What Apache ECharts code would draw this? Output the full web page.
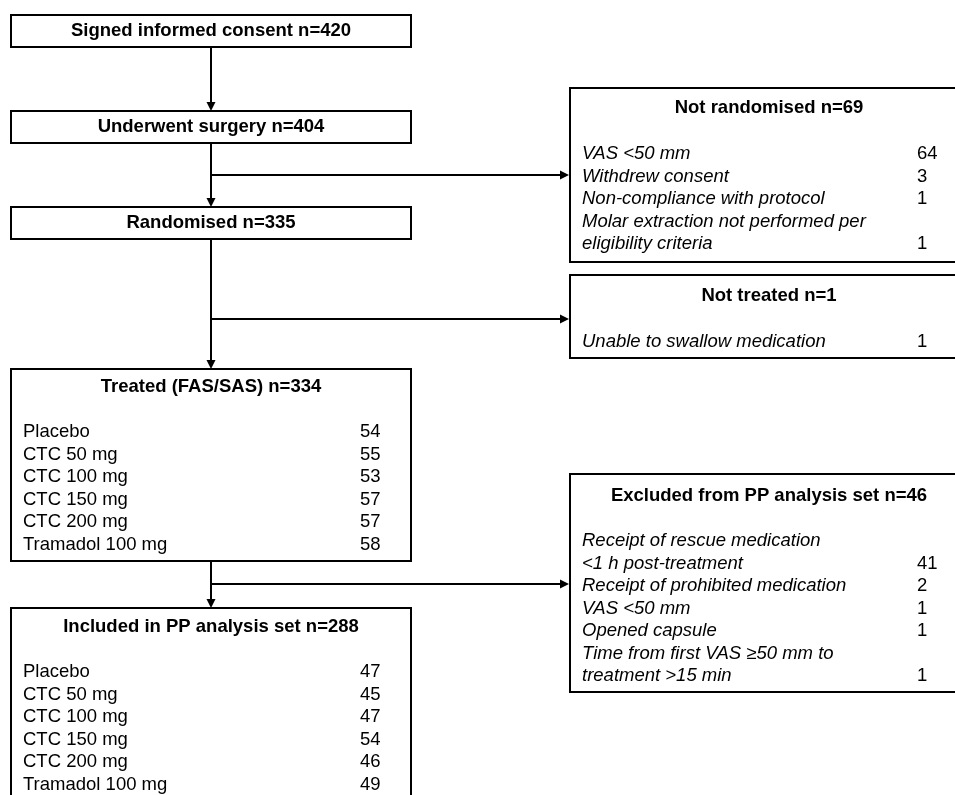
<!DOCTYPE html>
<html>
<head>
<meta charset="utf-8">
<script src="https://cdn.jsdelivr.net/npm/echarts@6/dist/echarts.min.js"></script>
<style>
html,body{margin:0;padding:0;background:#fff;}
#chart{width:955px;height:795px;}
</style>
</head>
<body>
<div id="chart"></div>
<script>
// ---------------- DATA ----------------
const stageTitles = ['Signed informed consent', 'Underwent surgery', 'Randomised', 'Not randomised',
  'Not treated', 'Treated (FAS/SAS)', 'Excluded from PP analysis set', 'Included in PP analysis set'];
const stageN = [420, 404, 335, 69, 1, 334, 46, 288];

const treatmentArms = ['Placebo', 'CTC 50 mg', 'CTC 100 mg', 'CTC 150 mg', 'CTC 200 mg', 'Tramadol 100 mg'];
const treatedCounts = [54, 55, 53, 57, 57, 58];
const ppCounts = [47, 45, 47, 54, 46, 49];

const notRandomisedReasons = ['VAS <50 mm', 'Withdrew consent', 'Non-compliance with protocol',
  'Molar extraction not performed per\neligibility criteria'];
const notRandomisedCounts = [64, 3, 1, 1];

const notTreatedReasons = ['Unable to swallow medication'];
const notTreatedCounts = [1];

const excludedReasons = ['Receipt of rescue medication\n<1 h post-treatment', 'Receipt of prohibited medication',
  'VAS <50 mm', 'Opened capsule', 'Time from first VAS \u226550 mm to\ntreatment >15 min'];
const excludedCounts = [41, 2, 1, 1, 1];

// rows per stage (index matches stageTitles)
const stageRows = [null, null, null,
  {labels: notRandomisedReasons, counts: notRandomisedCounts, italic: true},
  {labels: notTreatedReasons, counts: notTreatedCounts, italic: true},
  {labels: treatmentArms, counts: treatedCounts, italic: false},
  {labels: excludedReasons, counts: excludedCounts, italic: true},
  {labels: treatmentArms, counts: ppCounts, italic: false}];

// ---------------- LAYOUT (positions / sizes, in chart units) ----------------
const boxLayout = [
  {x0: 11, y0: 15, x1: 411, y1: 47, titleY: 31},
  {x0: 11, y0: 111, x1: 411, y1: 143, titleY: 127},
  {x0: 11, y0: 207, x1: 411, y1: 239, titleY: 223},
  {x0: 570, y0: 88, x1: 968, y1: 262, titleY: 108, rowY: 154, labelX: 582, countX: 917},
  {x0: 570, y0: 275, x1: 968, y1: 358, titleY: 296, rowY: 342, labelX: 582, countX: 917},
  {x0: 11, y0: 369, x1: 411, y1: 561, titleY: 387, rowY: 432, labelX: 23, countX: 360},
  {x0: 570, y0: 474, x1: 968, y1: 692, titleY: 496, rowY: 541, labelX: 582, countX: 917},
  {x0: 11, y0: 608, x1: 411, y1: 810, titleY: 627, rowY: 672, labelX: 23, countX: 360}
];
const lineStep = 22.5;
const trunkX = 211;
// connectors: [fromBox, toBox] vertical, and branches [y of branch, target box]
const verticalLinks = [[0, 1], [1, 2], [2, 5], [5, 7]];
const branchLinks = [[175, 3], [319, 4], [584, 6]];

const FONT = '"Liberation Sans", Arial, sans-serif';
const FS = 18.5;

// ---------------- CHART ----------------
const chart = echarts.init(document.getElementById('chart'), null, {renderer: 'canvas'});

function txt(x, y, s, opt) {
  return {
    type: 'text',
    style: Object.assign({
      x: x, y: y, text: s, fill: '#000',
      fontFamily: FONT, fontSize: FS,
      align: 'left', verticalAlign: 'middle'
    }, opt || {})
  };
}

function renderBox(params, api) {
  const i = api.value(0);
  const L = boxLayout[i];
  const p0 = api.coord([L.x0, L.y0]);
  const p1 = api.coord([L.x1, L.y1]);
  const children = [{
    type: 'rect',
    shape: {x: p0[0], y: p0[1], width: p1[0] - p0[0], height: p1[1] - p0[1]},
    style: {fill: '#fff', stroke: '#000', lineWidth: 2}
  }];
  const cx = api.coord([(L.x0 + L.x1) / 2, L.titleY]);
  children.push(txt(cx[0], cx[1], stageTitles[i] + ' n=' + stageN[i], {align: 'center', fontWeight: 'bold'}));
  const rows = stageRows[i];
  if (rows) {
    let y = L.rowY;
    rows.labels.forEach(function (lab, k) {
      const lines = lab.split('\n');
      lines.forEach(function (ln, j) {
        const pl = api.coord([L.labelX, y]);
        children.push(txt(pl[0], pl[1], ln, {fontStyle: rows.italic ? 'italic' : 'normal'}));
        if (j === lines.length - 1) {
          const pc = api.coord([L.countX, y]);
          children.push(txt(pc[0], pc[1], String(rows.counts[k])));
        }
        y += lineStep;
      });
    });
  }
  return {type: 'group', children: children};
}

function arrowDown(api, x, yA, yB) {
  const a = api.coord([x, yA]), b = api.coord([x, yB]);
  return [
    {type: 'line', shape: {x1: a[0], y1: a[1], x2: b[0], y2: b[1] - 6}, style: {stroke: '#000', lineWidth: 2}},
    {type: 'polygon', shape: {points: [[b[0] - 4.5, b[1] - 9], [b[0] + 4.5, b[1] - 9], [b[0], b[1]]]}, style: {fill: '#000'}}
  ];
}
function arrowRight(api, xA, xB, y) {
  const a = api.coord([xA, y]), b = api.coord([xB, y]);
  return [
    {type: 'line', shape: {x1: a[0], y1: a[1], x2: b[0] - 6, y2: b[1]}, style: {stroke: '#000', lineWidth: 2}},
    {type: 'polygon', shape: {points: [[b[0] - 9, b[1] - 4.5], [b[0] - 9, b[1] + 4.5], [b[0], b[1]]]}, style: {fill: '#000'}}
  ];
}

function renderLinks(params, api) {
  const idx = api.value(0);
  let children = [];
  if (idx < verticalLinks.length) {
    const lk = verticalLinks[idx];
    children = arrowDown(api, trunkX, boxLayout[lk[0]].y1, boxLayout[lk[1]].y0);
  } else {
    const br = branchLinks[idx - verticalLinks.length];
    children = arrowRight(api, trunkX, boxLayout[br[1]].x0 - 1, br[0]);
  }
  return {type: 'group', children: children};
}

const linkData = verticalLinks.map(function (d, i) { return [i]; })
  .concat(branchLinks.map(function (d, i) { return [verticalLinks.length + i]; }));

chart.setOption({
  backgroundColor: '#fff',
  animation: false,
  grid: {left: 0, right: 0, top: 0, bottom: 0},
  xAxis: {type: 'value', min: 0, max: 955, show: false},
  yAxis: {type: 'value', min: 0, max: 795, inverse: true, show: false},
  series: [
    {type: 'custom', name: 'links', renderItem: renderLinks, data: linkData, encode: {x: 0}, silent: true, z: 1},
    {type: 'custom', name: 'boxes', renderItem: renderBox, data: boxLayout.map(function (d, i) { return [i]; }), encode: {x: 0}, silent: true, z: 2}
  ]
});
</script>
</body>
</html>
